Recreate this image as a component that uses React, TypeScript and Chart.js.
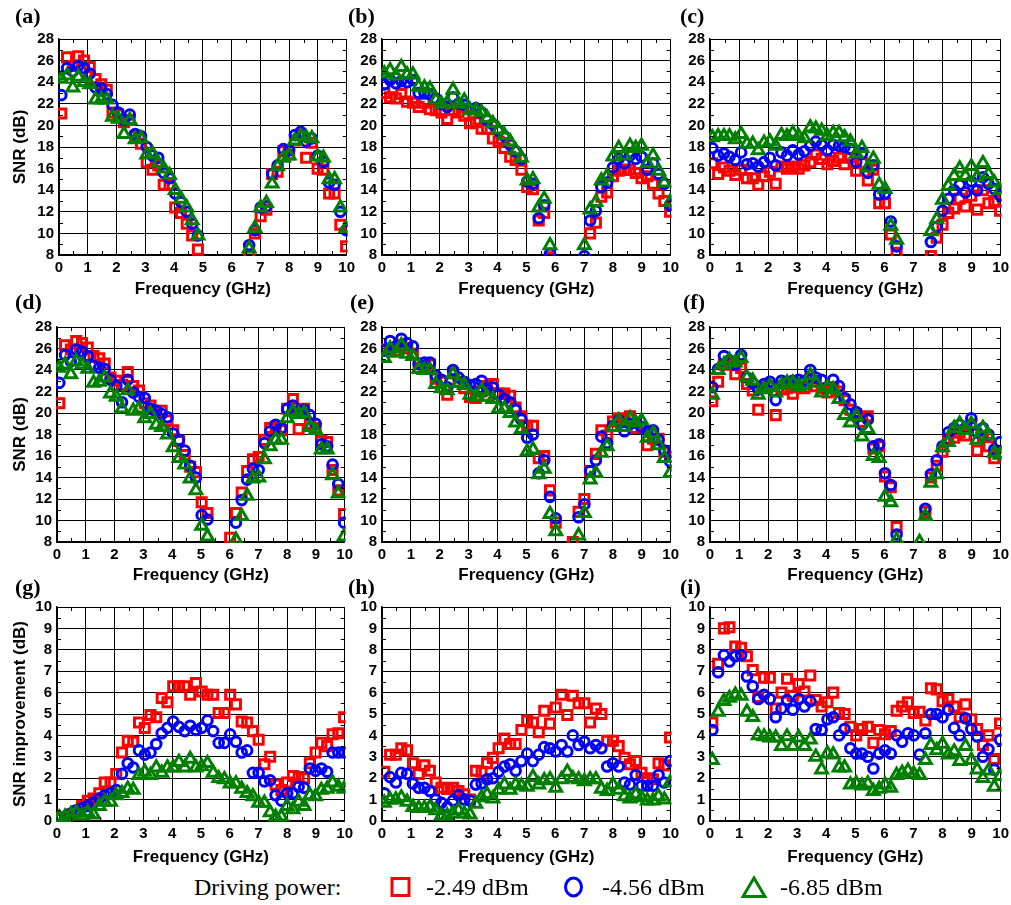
import React, { useEffect, useRef } from "react";
import { Chart, registerables } from "chart.js";
Chart.register(...registerables);

const N = null;
const FREQ_GHZ = [0.08,0.28,0.48,0.67,0.87,1.07,1.27,1.47,1.66,1.86,2.06,2.26,2.46,2.65,2.85,3.05,3.25,3.45,3.64,3.84,4.04,4.24,4.44,4.63,4.83,5.03,5.23,5.43,5.62,5.82,6.02,6.22,6.42,6.61,6.81,7.01,7.21,7.41,7.6,7.8,8.0,8.2,8.4,8.59,8.79,8.99,9.19,9.39,9.58,9.78,9.98];
const SERIES_LABELS = ["-2.49 dBm", "-4.56 dBm", "-6.85 dBm"];
const X_TITLE = "Frequency (GHz)";
const SNR_TITLE = "SNR (dB)";
const IMP_TITLE = "SNR improvement (dB)";

const A_RED = [21.1,26.3,25.5,26.4,26.0,25.4,24.3,23.8,23.3,21.2,21.0,20.3,20.5,19.0,18.3,16.6,15.9,16.3,14.5,14.5,12.4,11.9,10.9,9.8,8.5,N,N,N,N,N,N,N,N,7.9,10.0,11.6,12.2,15.5,15.7,17.6,17.3,18.6,19.1,17.0,18.4,16.0,15.9,13.7,13.7,10.8,8.8];
const A_BLUE = [22.8,25.3,25.0,25.5,25.3,24.8,23.5,23.4,22.9,21.9,21.2,20.5,21.0,19.2,19.0,18.0,17.2,17.0,15.6,15.1,13.7,12.9,12.0,10.9,9.8,N,N,N,N,N,N,N,N,8.9,10.3,12.4,12.5,15.5,16.3,17.8,17.7,19.1,19.4,18.5,18.8,17.2,16.6,14.7,14.5,12.0,10.3];
const A_GREEN = [24.3,24.6,23.5,24.5,24.0,23.8,22.4,22.4,22.4,20.8,20.6,19.2,20.5,18.7,18.8,17.3,17.4,16.5,16.0,15.4,14.0,13.2,12.4,11.2,9.8,N,N,N,N,N,N,N,N,8.6,10.5,12.4,12.8,14.6,16.2,17.0,17.2,18.6,19.0,18.9,18.8,17.1,17.0,15.0,15.0,12.4,10.5];

const B_RED = [23.0,22.6,22.5,22.9,22.2,22.1,21.7,22.1,21.5,21.4,21.2,20.6,21.4,21.2,20.9,20.2,20.3,19.7,19.7,18.8,18.5,17.9,17.1,16.8,15.9,14.3,14.1,11.2,11.9,7.8,N,N,N,N,N,N,10.0,11.0,13.4,13.8,15.3,15.8,15.9,15.9,15.6,15.1,15.3,14.6,13.7,13.0,12.0];
const B_BLUE = [23.8,24.2,23.9,24.1,24.0,24.2,23.0,23.0,22.9,22.5,22.0,21.7,22.6,22.0,21.9,21.5,21.6,21.2,20.5,20.1,19.5,19.0,18.2,17.6,16.9,14.8,14.6,11.4,12.6,8.1,N,N,N,N,N,7.9,11.2,12.1,14.3,14.7,16.1,16.9,16.5,17.2,16.9,17.1,15.9,16.5,15.5,14.6,12.6];
const B_GREEN = [24.8,25.1,24.6,25.4,24.7,24.7,23.6,23.5,23.4,22.4,22.0,22.1,23.3,22.0,22.3,21.4,21.4,21.2,20.7,20.2,19.6,19.1,18.5,17.7,17.0,14.9,15.0,12.4,13.2,8.9,N,N,N,N,N,8.9,12.2,12.9,14.9,15.3,17.1,17.9,17.2,18.1,17.9,18.1,16.5,17.2,15.8,14.7,12.9];

const C_RED = [16.5,15.5,16.1,15.8,15.4,15.9,15.1,15.1,14.5,15.3,15.7,14.6,16.2,16.0,16.2,16.0,16.3,16.6,17.3,16.9,16.4,16.7,17.0,16.4,17.0,15.8,16.5,14.9,15.9,12.8,12.8,9.9,8.2,N,N,N,N,N,7.9,9.6,10.8,11.9,12.3,13.2,12.5,13.5,12.2,14.0,12.8,13.0,12.1];
const C_BLUE = [17.9,17.2,17.4,17.1,16.8,17.5,16.4,16.5,16.2,16.6,17.0,16.3,17.5,17.2,17.7,17.3,17.6,18.1,18.5,18.2,17.7,18.2,18.1,18.0,17.8,16.6,17.4,15.6,16.3,13.6,13.7,11.1,8.8,N,N,N,N,N,9.2,10.6,12.1,13.2,14.0,14.5,13.8,14.8,14.0,15.2,14.6,14.1,13.5];
const C_GREEN = [18.9,19.0,19.0,19.0,18.7,19.2,18.3,18.3,17.7,18.4,18.5,18.1,19.1,19.0,19.3,19.0,18.8,19.8,19.7,19.5,19.0,19.3,19.3,18.9,18.5,17.4,17.9,16.1,16.9,14.5,14.1,10.7,9.4,N,N,N,N,N,10.2,11.3,13.1,14.4,15.3,16.0,15.3,16.2,15.2,16.5,15.5,14.7,14.0];

const D_RED = [20.9,26.3,25.9,26.7,26.5,26.1,25.3,25.1,24.6,23.3,23.0,22.6,23.8,22.5,22.1,20.9,20.7,20.2,20.2,19.3,18.4,17.4,16.1,15.0,14.5,11.7,10.7,N,N,N,8.4,10.7,12.6,14.6,15.7,15.9,17.5,18.6,18.7,18.4,20.4,21.3,18.5,20.4,19.0,18.6,17.4,17.3,14.7,12.8,10.6];
const D_BLUE = [22.8,25.4,24.8,25.9,25.7,25.3,24.4,24.2,24.1,23.1,22.5,21.0,23.1,21.9,21.5,21.4,20.4,20.2,19.9,19.6,18.1,17.5,16.5,15.1,14.0,10.5,10.1,N,N,N,N,9.8,11.9,13.8,14.8,14.7,17.2,18.3,18.9,18.6,20.4,20.7,20.2,20.3,19.8,19.0,17.1,16.9,15.2,13.4,9.8];
const D_GREEN = [24.2,24.5,23.6,24.8,24.5,24.1,22.8,22.9,23.3,21.8,21.5,20.4,22.1,20.2,20.4,19.5,19.9,18.9,18.7,18.0,16.8,15.8,15.2,13.9,12.8,9.5,8.5,N,N,N,N,8.2,10.4,12.3,13.9,14.0,15.7,16.9,17.5,17.5,19.5,20.1,19.9,20.0,18.7,18.4,16.6,16.6,14.2,12.5,8.5];

const E_RED = [25.9,26.0,25.8,26.3,26.0,25.5,24.2,24.3,24.5,23.2,22.9,21.7,23.7,22.9,22.3,21.5,21.4,22.0,22.5,22.7,21.8,21.8,21.6,20.5,19.7,18.8,18.8,15.8,16.0,12.8,9.8,N,N,8.0,10.8,12.0,14.6,16.2,18.4,17.9,19.2,19.5,19.3,19.7,18.6,18.6,17.0,17.6,17.6,16.4,15.9];
const E_BLUE = [25.8,26.7,26.2,26.9,26.5,26.2,24.6,24.7,24.7,23.5,23.1,22.4,24.0,23.3,22.9,22.6,22.7,23.0,22.2,22.4,21.7,21.3,21.0,20.3,19.4,17.7,18.0,14.4,15.6,12.2,10.2,N,N,N,10.3,11.5,14.6,15.6,17.8,17.2,18.8,19.3,18.3,19.0,19.1,18.7,18.3,18.4,17.5,16.5,15.5];
const E_GREEN = [25.1,26.0,25.6,26.3,25.5,25.3,24.1,24.0,24.0,22.7,22.3,22.1,23.6,22.8,22.6,21.7,21.5,22.1,21.5,21.3,20.4,20.4,20.0,19.1,18.5,16.4,16.6,14.3,14.8,10.6,9.0,N,N,N,8.6,10.7,13.8,14.4,16.3,16.9,18.7,19.3,18.7,19.5,19.1,19.3,17.7,18.1,17.0,15.8,14.4];

const F_RED = [21.1,22.9,24.5,24.6,23.6,24.2,22.7,22.1,20.3,22.4,22.5,19.8,22.2,22.3,21.8,22.4,22.3,23.2,22.5,22.3,21.9,22.4,22.0,21.2,20.3,19.9,19.2,19.7,16.7,16.9,14.1,13.1,9.4,N,N,N,N,10.8,14.0,15.1,16.4,17.6,17.7,18.2,17.9,18.9,16.5,17.8,16.9,15.8,16.3];
const F_BLUE = [22.4,24.1,25.3,24.9,24.5,25.4,23.3,22.8,22.2,22.7,22.9,21.2,23.0,22.9,23.0,23.1,23.0,24.0,23.3,23.1,22.3,23.1,22.5,21.4,20.8,20.1,18.9,19.4,16.9,17.1,14.4,13.3,8.7,N,N,N,N,11.1,14.3,15.6,16.9,18.2,18.6,18.9,18.6,19.5,18.2,18.6,18.0,16.6,17.3];
const F_GREEN = [21.7,24.0,24.5,24.9,24.7,25.1,23.3,23.0,21.7,22.2,22.5,21.9,22.6,22.8,22.8,22.5,22.6,23.5,22.8,21.9,22.4,22.2,21.3,19.8,19.1,19.7,17.8,18.5,16.0,15.8,12.2,11.7,8.2,N,N,N,8.0,10.4,13.5,14.3,16.8,17.3,18.6,19.0,18.4,19.0,17.5,18.6,17.9,16.3,16.1];

const G_RED = [0.15,0.15,0.3,0.45,0.7,0.95,1.05,1.3,1.8,1.8,2.2,3.2,3.75,3.7,4.6,4.35,4.95,4.85,5.75,5.55,6.3,6.3,6.3,5.9,6.45,6.05,5.9,5.9,5.05,5.05,5.9,5.45,4.65,4.6,4.2,3.8,2.65,3.0,1.7,1.45,1.8,2.1,2.05,2.0,2.7,3.2,3.65,3.5,4.05,4.1,4.85];
const G_BLUE = [0.1,0.2,0.35,0.5,0.6,0.7,0.85,1.05,1.2,1.3,1.45,2.2,2.7,2.5,3.3,3.1,3.2,3.6,4.1,4.35,4.65,4.4,4.2,4.45,4.25,4.35,4.7,4.2,3.65,3.65,4.05,3.7,3.2,3.3,2.25,2.25,1.85,1.9,1.2,0.95,1.3,1.3,1.6,1.55,2.45,2.35,2.45,2.3,3.2,3.2,3.2];
const G_GREEN = [0.15,0.2,0.3,0.4,0.25,0.4,0.3,0.7,0.9,0.9,1.2,1.3,1.5,1.45,2.15,2.3,2.15,2.5,2.25,2.5,2.5,2.75,2.5,2.9,2.5,2.55,2.7,2.25,2.0,1.95,1.75,1.75,1.5,1.3,1.15,0.85,0.85,0.4,0.2,0.2,0.7,0.55,0.9,0.7,1.2,1.15,1.45,1.5,1.8,1.6,1.5];

const H_RED = [2.3,3.1,3.1,3.4,3.3,2.7,2.2,2.6,2.35,1.8,1.55,1.5,1.55,1.4,1.25,1.0,2.35,2.3,2.7,2.95,3.4,3.85,3.6,3.6,4.25,4.7,4.6,4.15,5.15,4.55,5.3,5.9,4.95,5.85,5.5,5.5,4.6,5.25,5.0,3.75,3.75,3.5,2.95,2.65,2.8,2.25,2.0,1.95,2.7,2.6,3.9];
const H_BLUE = [1.3,2.05,1.8,2.25,2.2,1.75,1.55,1.55,1.4,1.0,0.85,0.65,0.95,1.2,1.0,0.95,1.7,1.75,1.95,2.0,2.3,2.55,2.65,2.35,2.8,3.15,2.8,3.1,3.45,3.4,3.25,3.55,3.25,4.0,3.55,3.7,3.4,3.55,3.4,2.55,2.7,2.55,1.8,1.7,2.15,1.65,1.65,1.65,2.15,1.8,2.8];
const H_GREEN = [0.85,1.0,1.0,1.1,0.9,0.65,0.6,0.6,0.65,0.5,0.25,0.25,0.35,0.5,0.35,0.3,0.8,1.1,1.25,1.05,1.45,1.7,1.45,1.7,1.65,1.6,2.05,1.7,1.9,1.95,1.55,1.95,2.3,2.0,1.95,1.85,1.95,1.95,1.5,1.4,1.7,1.45,1.15,1.05,1.25,1.1,0.95,0.95,1.15,1.0,1.8];

const I_RED = [4.6,7.35,9.0,9.05,8.15,8.1,7.7,7.05,5.8,6.7,6.7,5.25,6.0,6.65,5.85,6.4,6.05,6.8,5.65,5.35,5.55,6.0,5.05,5.0,4.4,4.0,4.3,4.4,3.65,4.25,4.05,4.2,5.15,5.35,5.55,5.05,5.1,4.7,6.2,6.15,5.6,5.7,5.35,4.85,5.45,4.75,4.3,3.55,4.0,2.9,4.55];
const I_BLUE = [4.25,6.95,7.75,7.45,7.7,7.75,6.75,6.3,5.7,5.9,5.7,4.85,5.25,5.65,5.2,5.7,5.35,5.6,4.3,4.25,4.75,4.85,4.0,4.3,3.4,3.15,3.15,3.0,2.45,3.15,3.3,3.15,4.0,3.7,4.1,4.0,3.1,4.1,5.0,5.0,4.85,5.2,4.35,4.0,4.8,4.3,3.95,3.0,3.35,2.4,3.8];
const I_GREEN = [2.85,5.1,5.6,5.75,5.9,5.85,5.1,4.85,4.0,3.95,3.9,3.9,3.5,3.95,3.5,3.9,3.5,3.8,3.0,2.4,3.15,3.1,2.5,2.5,1.7,1.75,1.65,1.75,1.4,1.5,1.7,1.55,2.15,2.25,2.35,2.2,2.15,2.85,3.55,3.3,3.6,3.1,3.25,2.8,3.5,2.85,2.4,2.0,2.35,1.6,2.1];

const RED = "#ff0000";
const BLUE = "#0000ff";
const GREEN = "#008000";
const SANS = "'Liberation Sans', Arial, sans-serif";
const SERIF = "'Liberation Serif', 'Times New Roman', serif";

type PanelDef = {
  tag: string;
  series: (number | null)[][];
  yMin: number; yMax: number; yStep: number;
  yTitle: string | null;
  box: [number, number, number, number];
  hx: number;
  labelPos: [number, number];
};

const PANELS: PanelDef[] = [
  { tag: "(a)", series: [A_RED, A_BLUE, A_GREEN], yMin: 8, yMax: 28, yStep: 2, yTitle: SNR_TITLE, box: [59, 35, 349, 255], hx: 45, labelPos: [15, 5] },
  { tag: "(b)", series: [B_RED, B_BLUE, B_GREEN], yMin: 8, yMax: 28, yStep: 2, yTitle: null, box: [382, 35, 673, 255], hx: 45, labelPos: [348, 5] },
  { tag: "(c)", series: [C_RED, C_BLUE, C_GREEN], yMin: 8, yMax: 28, yStep: 2, yTitle: null, box: [710, 35, 1003, 255], hx: 45, labelPos: [680, 5] },
  { tag: "(d)", series: [D_RED, D_BLUE, D_GREEN], yMin: 8, yMax: 28, yStep: 2, yTitle: SNR_TITLE, box: [57, 323, 347, 542], hx: 44, labelPos: [15, 291] },
  { tag: "(e)", series: [E_RED, E_BLUE, E_GREEN], yMin: 8, yMax: 28, yStep: 2, yTitle: null, box: [382, 323, 673, 542], hx: 44, labelPos: [350, 291] },
  { tag: "(f)", series: [F_RED, F_BLUE, F_GREEN], yMin: 8, yMax: 28, yStep: 2, yTitle: null, box: [710, 323, 1003, 542], hx: 44, labelPos: [683, 291] },
  { tag: "(g)", series: [G_RED, G_BLUE, G_GREEN], yMin: 0, yMax: 10, yStep: 1, yTitle: IMP_TITLE, box: [57, 603, 347, 821], hx: 47, labelPos: [15, 576] },
  { tag: "(h)", series: [H_RED, H_BLUE, H_GREEN], yMin: 0, yMax: 10, yStep: 1, yTitle: null, box: [382, 603, 673, 821], hx: 47, labelPos: [348, 576] },
  { tag: "(i)", series: [I_RED, I_BLUE, I_GREEN], yMin: 0, yMax: 10, yStep: 1, yTitle: null, box: [710, 603, 1003, 821], hx: 47, labelPos: [680, 576] },
];

const minorTicks = {
  id: "minorTicks",
  afterDraw(chart: any, _args: any, opts: any) {
    const { ctx, chartArea, scales } = chart;
    const { left, right, top, bottom } = chartArea;
    const xs = scales.x, ys = scales.y;
    const len = 4;
    ctx.save();
    ctx.strokeStyle = "#000";
    ctx.lineWidth = 1;
    ctx.beginPath();
    for (let v = xs.min + 0.5; v < xs.max; v += 1) {
      const px = Math.round(xs.getPixelForValue(v)) + 0.5;
      ctx.moveTo(px, bottom); ctx.lineTo(px, bottom - len);
      ctx.moveTo(px, top); ctx.lineTo(px, top + len);
    }
    const step = opts.yStep / 2;
    for (let v = ys.min + step; v < ys.max; v += opts.yStep) {
      const py = Math.round(ys.getPixelForValue(v)) + 0.5;
      ctx.moveTo(left, py); ctx.lineTo(left + len, py);
      ctx.moveTo(right, py); ctx.lineTo(right - len, py);
    }
    ctx.stroke();
    ctx.restore();
  },
};

function makeDataset(vals: (number | null)[], color: string, style: string, radius: number, order: number, label: string) {
  return {
    label,
    data: vals.map((v, i) => ({ x: FREQ_GHZ[i], y: v })),
    pointStyle: style,
    pointRadius: radius,
    pointBorderWidth: 3,
    pointBorderColor: color,
    pointBackgroundColor: "rgba(0,0,0,0)",
    borderColor: color,
    backgroundColor: "rgba(0,0,0,0)",
    showLine: false,
    order,
    clip: 1,
  };
}

function PanelChart({ p, col }: { p: PanelDef; col: number }) {
  const ref = useRef<HTMLCanvasElement>(null);
  const [l, t, r, b] = p.box;
  const wy = col === 0 ? l - 5 : 40;
  const padTop = 10, padRight = 10;
  const cw = wy + (r - l) + padRight;
  const ch = padTop + (b - t) + p.hx;
  useEffect(() => {
    const tickFont = { family: SANS, size: 15, weight: "bold" as const };
    const titleFont = { family: SANS, size: 17, weight: "bold" as const };
    const chart = new Chart(ref.current as HTMLCanvasElement, {
      type: "scatter",
      data: {
        datasets: [
          makeDataset(p.series[0], RED, "rect", 6.4, 3, SERIES_LABELS[0]),
          makeDataset(p.series[1], BLUE, "circle", 4.8, 2, SERIES_LABELS[1]),
          makeDataset(p.series[2], GREEN, "triangle", 6.8, 1, SERIES_LABELS[2]),
        ] as any,
      },
      options: {
        animation: false,
        responsive: false,
        devicePixelRatio: 1,
        layout: { padding: { top: padTop, right: padRight, left: 0, bottom: 0 } },
        plugins: {
          legend: { display: false },
          tooltip: { enabled: false },
          minorTicks: { yStep: p.yStep },
        } as any,
        scales: {
          x: {
            type: "linear",
            min: 0,
            max: 10,
            ticks: { stepSize: 1, padding: 4, font: tickFont, color: "#000", maxRotation: 0, autoSkip: false },
            grid: { color: "#000", lineWidth: 1, drawTicks: false },
            border: { color: "#000", width: 1.5 },
            title: { display: true, text: X_TITLE, font: titleFont, color: "#000", padding: { top: 0, bottom: 0 } },
            afterFit: (s: any) => { s.height = p.hx; },
          },
          y: {
            type: "linear",
            min: p.yMin,
            max: p.yMax,
            ticks: { stepSize: p.yStep, padding: 5, font: tickFont, color: "#000", autoSkip: false },
            grid: { color: "#000", lineWidth: 1, drawTicks: false },
            border: { color: "#000", width: 1.5 },
            title: { display: !!p.yTitle, text: p.yTitle || "", font: titleFont, color: "#000", padding: { top: 5, bottom: 0 } },
            afterFit: (s: any) => { s.width = wy; },
          },
        },
      } as any,
      plugins: [minorTicks as any],
    });
    return () => chart.destroy();
  }, []);
  return (
    <canvas
      ref={ref}
      width={cw}
      height={ch}
      style={{ position: "absolute", left: l - wy, top: t - padTop, width: cw, height: ch }}
    />
  );
}

function LegendText({ x, text }: { x: number; text: string }) {
  return (
    <div style={{ position: "absolute", left: x, top: 873, fontFamily: SERIF, fontSize: 24, lineHeight: "28px", whiteSpace: "nowrap", color: "#000" }}>
      {text}
    </div>
  );
}

export default function App() {
  return (
    <div style={{ position: "absolute", left: 0, top: 0, width: 1011, height: 905, background: "#fff", overflow: "hidden" }}>
      {PANELS.map((p, i) => (
        <PanelChart key={p.tag} p={p} col={i % 3} />
      ))}
      {PANELS.map((p) => (
        <div
          key={"lbl" + p.tag}
          style={{ position: "absolute", left: p.labelPos[0], top: p.labelPos[1], fontFamily: SERIF, fontWeight: "bold", fontSize: 22, lineHeight: "22px", color: "#000" }}
        >
          {p.tag}
        </div>
      ))}
      <LegendText x={194} text="Driving power:" />
      <svg style={{ position: "absolute", left: 390, top: 877 }} width={22} height={21}>
        <rect x={2} y={1.5} width={17} height={17} fill="none" stroke={RED} strokeWidth={3} />
      </svg>
      <LegendText x={426} text={SERIES_LABELS[0]} />
      <svg style={{ position: "absolute", left: 563, top: 876 }} width={22} height={23}>
        <ellipse cx={10.5} cy={11} rx={8} ry={9} fill="none" stroke={BLUE} strokeWidth={3} />
      </svg>
      <LegendText x={602} text={SERIES_LABELS[1]} />
      <svg style={{ position: "absolute", left: 741, top: 875 }} width={26} height={24}>
        <polygon points="13,3 24,21.5 2,21.5" fill="none" stroke={GREEN} strokeWidth={3} />
      </svg>
      <LegendText x={780} text={SERIES_LABELS[2]} />
    </div>
  );
}
